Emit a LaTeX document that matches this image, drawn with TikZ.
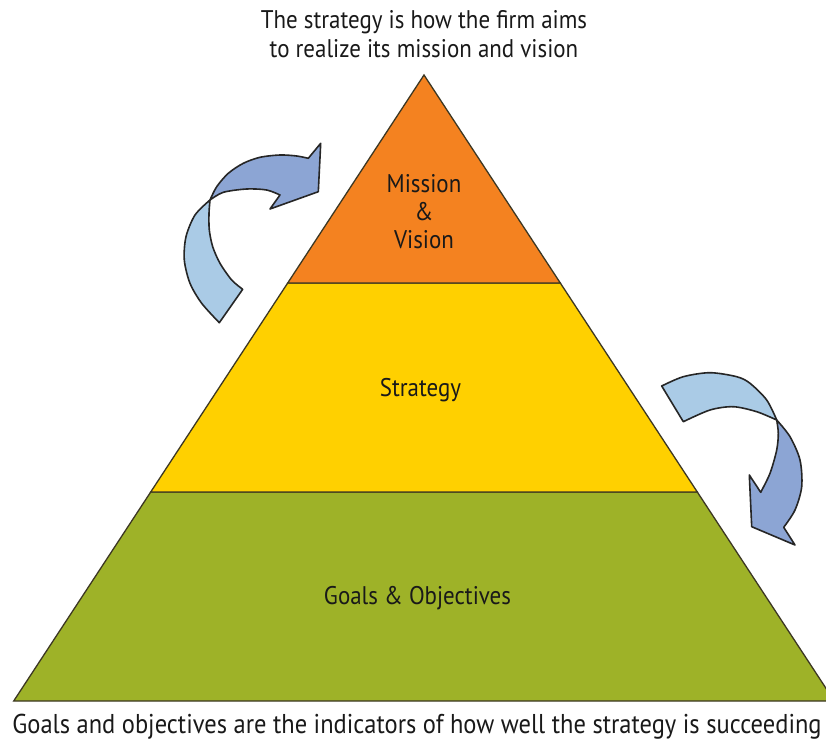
\documentclass[tikz,border=0pt]{standalone}
\usepackage{fontspec}
\setmainfont[FakeStretch=0.9]{PT Sans}
\definecolor{orangeL}{RGB}{244,130,32}
\definecolor{yellowL}{RGB}{255,208,0}
\definecolor{greenL}{RGB}{158,178,40}
\definecolor{edgeC}{RGB}{60,55,35}
\definecolor{blueLight}{RGB}{170,203,230}
\definecolor{blueDark}{RGB}{140,165,212}
\tikzset{
  layer/.style={draw=edgeC, line width=1.3pt, line join=miter},
  arrowpart/.style={draw=black!85, line width=1.6pt, line join=round},
  lbl/.style={font=\fontsize{25.5}{28}\selectfont, text=black!90, align=center, inner sep=0pt},
  captxt/.style={font=\fontsize{25.5}{28.5}\selectfont, text=black!90, align=center, inner sep=0pt},
  captxtb/.style={font=\fontsize{27.2}{30}\selectfont, text=black!90, align=center, inner sep=0pt}
}
\begin{document}
\begin{tikzpicture}[x=1pt,y=-1pt]
\useasboundingbox (0,0) rectangle (826,744);
\fill[white] (0,0) rectangle (826,744);
\begin{scope}
\clip (0,0) rectangle (826,744);
\coordinate (apex) at (424,75);
\coordinate (o1) at (287.7,283);
\coordinate (o2) at (560.3,283);
\coordinate (y1) at (150.7,492);
\coordinate (y2) at (697.3,492);
\coordinate (g1) at (13.7,701);
\coordinate (g2) at (834.3,701);
\filldraw[layer, fill=greenL] (y1) -- (y2) -- (g2) -- (g1) -- cycle;
\filldraw[layer, fill=yellowL] (o1) -- (o2) -- (y2) -- (y1) -- cycle;
\filldraw[layer, fill=orangeL] (apex) -- (o2) -- (o1) -- cycle;
\end{scope}
% left arrow
\filldraw[arrowpart, fill=blueLight]
  plot[smooth] coordinates {(219.3,322.7) (201.7,303.3) (190,283.3) (184.3,260) (186,236.7) (195,215) (210,200)}
  -- plot[smooth] coordinates {(210,200) (209,213.3) (209.3,230) (212.7,246.7) (220,263.3) (231.7,280) (242.7,289.3)}
  -- cycle;
\filldraw[arrowpart, fill=blueDark]
  plot[smooth] coordinates {(210,200) (216.7,186.7) (228.3,173.3) (243.3,163.3) (260,157.3) (280,155) (296.7,156) (308.3,158.3)}
  -- (320.7,143.3) -- (318.3,191.7) -- (270,209) -- (280,195)
  -- plot[smooth] coordinates {(280,195) (266.7,190) (246.7,189) (223.3,192.3) (210,200)}
  -- cycle;
% right arrow
\filldraw[arrowpart, fill=blueLight]
  plot[smooth] coordinates {(661.7,386) (683.3,376.7) (710,372.7) (736.7,376.7) (750,383.3) (766.7,400) (776.7,420)}
  -- plot[smooth] coordinates {(776.7,420) (756.7,411.7) (733.3,406.7) (710,410) (683.3,421.7)}
  -- cycle;
\filldraw[arrowpart, fill=blueDark]
  plot[smooth] coordinates {(776.7,420) (790,436.7) (800,460) (801.7,486.7) (795,510) (783.7,527.3)}
  -- (795,545) -- (751.7,526.7) -- (749.3,475) -- (760.7,492.3)
  -- plot[smooth] coordinates {(760.7,492.3) (770,473.3) (776.7,450) (778.3,433.3) (776.7,420)}
  -- cycle;
% labels
\node[lbl] (mv) at (424,212) {Mission\\\&\\Vision};
\node[lbl] (st) at (420.5,390) {Strategy};
\node[lbl] (go) at (417.5,598) {Goals \& Objectives};
\node[captxt] (top) at (424,34) {The strategy is how the firm aims\\to realize its mission and vision};
\node[captxtb] (bot) at (417,727) {Goals and objectives are the indicators of how well the strategy is succeeding};
\end{tikzpicture}
\end{document}
